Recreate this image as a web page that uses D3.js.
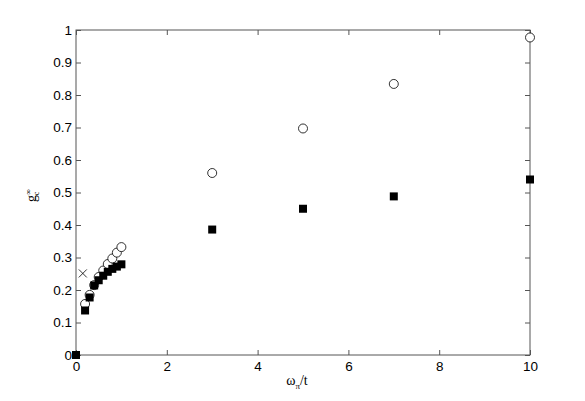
<!DOCTYPE html>
<html>
<head>
<meta charset="utf-8">
<script src="https://cdn.jsdelivr.net/npm/d3@7"></script>
<style>
    body { margin: 0; background: #fff; }
    .tick text { font-family: "Liberation Sans", Arial, sans-serif; font-size: 13.5px; fill: #000; }
    .tick line { stroke: #555; }
    .axis_lbl { font-family: "Liberation Serif", "Times New Roman", serif; font-size: 14px; fill: #000; }
</style>
</head>
<body>
<div id="chart"></div>
<script>
// x values of the runs
var xs_open = [0.2, 0.3, 0.4, 0.5, 0.6, 0.7, 0.8, 0.9, 1.0, 3, 5, 7, 10];
var gc_open = [0.157, 0.185, 0.215, 0.24, 0.26, 0.28, 0.297, 0.315, 0.332, 0.56, 0.697, 0.834, 0.977];

var xs_fill = [0, 0.2, 0.3, 0.4, 0.5, 0.6, 0.7, 0.8, 0.9, 1.0, 3, 5, 7, 10];
var gc_fill = [0, 0.137, 0.177, 0.214, 0.23, 0.244, 0.256, 0.265, 0.272, 0.279, 0.386, 0.45, 0.488, 0.54];

var xs_cross = [0.15];
var gc_cross = [0.251];

var x_ticks = [0, 2, 4, 6, 8, 10];
var y_ticks = [0, 0.1, 0.2, 0.3, 0.4, 0.5, 0.6, 0.7, 0.8, 0.9, 1];

var W = 585, H = 401;
var pL = 76, pT = 30, pR = 530, pB = 355;

var svg = d3.select("#chart").append("svg")
    .attr("width", W)
    .attr("height", H);

var x = d3.scaleLinear().domain([0, 10]).range([pL, pR]);
var y = d3.scaleLinear().domain([0, 1]).range([pB, pT]);

var fmt = d => d3.format("")(+d.toFixed(1));

// bottom axis, ticks pointing in
svg.append("g")
    .attr("transform", "translate(0," + pB + ")")
    .call(d3.axisBottom(x).tickValues(x_ticks).tickSizeInner(-5).tickSizeOuter(0).tickPadding(6).tickFormat(fmt));

// top axis, no labels
svg.append("g")
    .attr("transform", "translate(0," + pT + ")")
    .call(d3.axisTop(x).tickValues(x_ticks).tickSizeInner(-5).tickSizeOuter(0).tickFormat(""));

// left axis
svg.append("g")
    .attr("transform", "translate(" + pL + ",0)")
    .call(d3.axisLeft(y).tickValues(y_ticks).tickSizeInner(-5).tickSizeOuter(0).tickPadding(4).tickFormat(fmt));

// right axis, no labels
svg.append("g")
    .attr("transform", "translate(" + pR + ",0)")
    .call(d3.axisRight(y).tickValues(y_ticks).tickSizeInner(-5).tickSizeOuter(0).tickFormat(""));

svg.selectAll(".domain").remove();

// box
svg.append("rect")
    .attr("x", pL)
    .attr("y", pT)
    .attr("width", pR - pL)
    .attr("height", pB - pT)
    .attr("fill", "none")
    .attr("stroke", "#555")
    .attr("stroke-width", 1);

// open circles
svg.append("g").selectAll("circle")
    .data(xs_open.map((d, i) => [d, gc_open[i]]))
    .enter().append("circle")
    .attr("cx", d => x(d[0]))
    .attr("cy", d => y(d[1]))
    .attr("r", 4.5)
    .attr("fill", "#fff")
    .attr("stroke", "#000")
    .attr("stroke-width", 0.8);

// filled squares
svg.append("g").selectAll("rect")
    .data(xs_fill.map((d, i) => [d, gc_fill[i]]))
    .enter().append("rect")
    .attr("x", d => x(d[0]) - 4)
    .attr("y", d => y(d[1]) - 4)
    .attr("width", 8)
    .attr("height", 8)
    .attr("fill", "#000");

// crosses
svg.append("g").selectAll("path")
    .data(xs_cross.map((d, i) => [d, gc_cross[i]]))
    .enter().append("path")
    .attr("d", d => {
        var cx = x(d[0]), cy = y(d[1]), s = 4;
        return "M" + (cx - s) + "," + (cy - s) + "L" + (cx + s) + "," + (cy + s) +
            "M" + (cx - s) + "," + (cy + s) + "L" + (cx + s) + "," + (cy - s);
    })
    .attr("stroke", "#000")
    .attr("stroke-width", 0.8)
    .attr("fill", "none");

// x label
var xlab = svg.append("text")
    .attr("class", "axis_lbl")
    .attr("x", 297)
    .attr("y", 385)
    .attr("text-anchor", "middle");
xlab.append("tspan").text("ω");
xlab.append("tspan").attr("dy", 4).attr("font-size", 9).text("π");
xlab.append("tspan").attr("dy", -4).text("/t");

// y label: g with sub c and sup infinity
var ylab = svg.append("text")
    .attr("class", "axis_lbl")
    .attr("font-size", 13)
    .attr("transform", "translate(36,202) rotate(-90)");
ylab.append("tspan").text("g");
ylab.append("tspan").attr("dy", -5).attr("font-size", 8).text("∞");
ylab.append("tspan").attr("dx", -6).attr("dy", 8).attr("font-size", 8).text("c");
</script>
</body>
</html>
